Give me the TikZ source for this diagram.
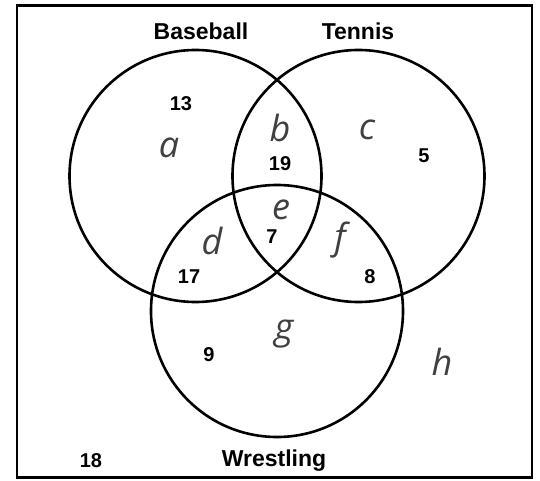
\documentclass[tikz,border=0pt]{standalone}
\usepackage{fontspec}
\setmainfont{Liberation Sans}
\newfontfamily\handfont{Open Sans}
\usetikzlibrary{positioning}

\begin{document}
\begin{tikzpicture}[
    x=1pt, y=-1pt,
    setcircle/.style={draw, circle, line width=2.6pt, minimum size=252pt, inner sep=0pt},
    setname/.style={font=\fontsize{23}{25}\selectfont\bfseries},
    count/.style={font=\fontsize{20}{22}\selectfont\bfseries},
    region/.style={font=\handfont\itshape\fontsize{36}{38}\selectfont, text=black!75},
]
\useasboundingbox (0,0) rectangle (540,481);

% Universe
\node[draw, line width=2.6pt, minimum width=515pt, minimum height=472pt, inner sep=0pt] (universe) at (274.5,241.5) {};

% Circles
\node[setcircle] (baseball) at (195.5,176) {};
\node[setcircle] (tennis) at (358.5,176) {};
\node[setcircle] (wrestling) at (277,311) {};

% Set names
\node[setname] (lbase) at (201,31) {Baseball};
\node[setname] (lten) at (358,31) {Tennis};
\node[setname] (lwre) at (274,461) {Wrestling};

% Counts
\node[count] (n13) at (181,104) {13};
\node[count] (n19) at (280,164) {19};
\node[count] (n5) at (424,156) {5};
\node[count] (n7) at (272,237) {7};
\node[count] (n17) at (189,277) {17};
\node[count] (n8) at (370,277) {8};
\node[count] (n9) at (209,355) {9};
\node[count] (n18) at (91,461) {18};

% Region letters
\node[region] (ra) at (169,148) {a};
\node[region] (rb) at (280,128) {b};
\node[region] (rc) at (367,130) {c};
\node[region] (re) at (281,210) {e};
\node[region] (rd) at (212,241) {d};
\node[region] (rf) at (340,240) {f};
\node[region] (rg) at (284,334) {g};
\node[region] (rh) at (442,362) {h};

\end{tikzpicture}
\end{document}
